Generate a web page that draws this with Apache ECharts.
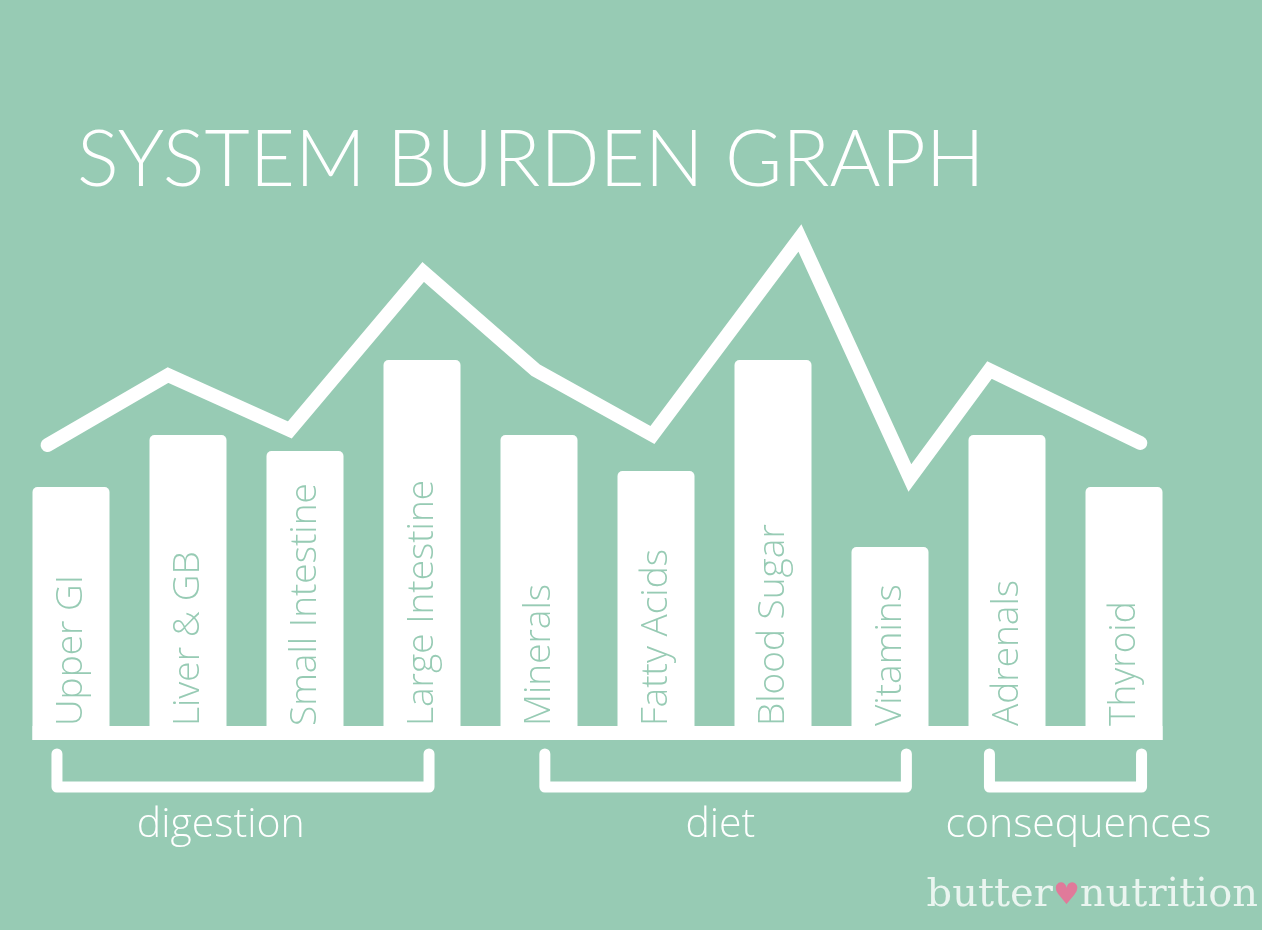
<!DOCTYPE html>
<html><head><meta charset="utf-8">
<script src="https://cdn.jsdelivr.net/npm/echarts@6/dist/echarts.min.js"></script>
<style>html,body{margin:0;padding:0;background:#97cbb4;}#c{width:1262px;height:930px;}</style>
</head><body><div id="c"></div>
<script>
var categories = ['Upper GI','Liver & GB','Small Intestine','Large Intestine','Minerals','Fatty Acids','Blood Sugar','Vitamins','Adrenals','Thyroid'];
var barValues = [253, 305, 289, 380, 305, 269, 380, 193, 305, 253];
var lineX = [-0.2, 0.83, 1.87, 3.01, 3.97, 4.97, 6.23, 7.17, 7.85, 9.14];
var lineValues = [295, 365, 310, 468, 370, 305, 502, 262, 370, 297];
var groupNames = ['digestion', 'diet', 'consequences'];
var groupFrom = [-0.12, 4.05, 7.85];
var groupTo = [3.06, 7.14, 9.15];
var groupLabelAt = [1.28, 5.55, 8.61];

var BG = '#97cbb4';
var chart = echarts.init(document.getElementById('c'));
var option = {
  backgroundColor: BG,
  animation: false,
  title: {
    text: 'SYSTEM BURDEN GRAPH', left: 72, top: 117,
    textStyle: {color: '#fff', fontSize: 78, fontWeight: 300, fontFamily: 'Lato'}
  },
  grid: {left: 12.5, width: 1170, top: 200, height: 540},
  xAxis: [
    {type: 'category', data: categories, show: false},
    {type: 'value', min: -0.5, max: 9.5, show: false}
  ],
  yAxis: {type: 'value', min: 0, max: 540, show: false},
  series: [
    {
      type: 'bar', data: barValues, xAxisIndex: 0, barWidth: 77,
      itemStyle: {color: '#fff', borderRadius: [5,5,0,0]},
      label: {
        show: true, formatter: '{b}', position: 'insideBottom', rotate: 90,
        align: 'left', verticalAlign: 'middle', distance: 14,
        color: BG, fontSize: 37, fontFamily: 'Open Sans', fontWeight: 300
      },
      z: 2
    },
    {
      type: 'line', xAxisIndex: 1,
      data: lineX.map(function(x, i){ return [x, lineValues[i]]; }),
      symbol: 'none',
      lineStyle: {color: '#fff', width: 14, cap: 'round', join: 'miter'},
      z: 3
    }
  ]
};
chart.setOption(option);

function px(xv, yv){ return chart.convertToPixel({xAxisIndex: 1, yAxisIndex: 0}, [xv, yv]); }
var g = [];
var b0 = chart.convertToPixel({xAxisIndex: 0, yAxisIndex: 0}, [0, 0]);
var b9 = chart.convertToPixel({xAxisIndex: 0, yAxisIndex: 0}, [categories.length - 1, 0]);
g.push({type: 'rect', shape: {x: b0[0] - 38.5, y: b0[1] - 14, width: b9[0] - b0[0] + 77, height: 14}, style: {fill: '#fff'}, z: 5});
var yTop = b0[1] + 14, yBot = b0[1] + 47;
for (var i = 0; i < groupNames.length; i++) {
  var xl = px(groupFrom[i], 0)[0], xr = px(groupTo[i], 0)[0];
  g.push({type: 'polyline', shape: {points: [[xl, yTop], [xl, yBot], [xr, yBot], [xr, yTop]]},
    style: {stroke: '#fff', lineWidth: 11, lineCap: 'round', lineJoin: 'round', fill: null}, z: 5});
  g.push({type: 'text', x: px(groupLabelAt[i], 0)[0], y: yBot + 38,
    style: {text: groupNames[i], fill: '#fff', font: '300 41px "Open Sans"', align: 'center', verticalAlign: 'middle'}, z: 5});
}
g.push({type: 'text', right: 4, top: 876,
  style: {rich: {a: {fill: 'rgba(255,255,255,0.8)', font: '300 40px "DejaVu Serif"'}, h: {fill: '#e07a9a', font: '30px "DejaVu Sans"'}},
    text: '{a|butter}{h|\u2665}{a|nutrition}'}, z: 5});
chart.setOption({graphic: g});
</script></body></html>
